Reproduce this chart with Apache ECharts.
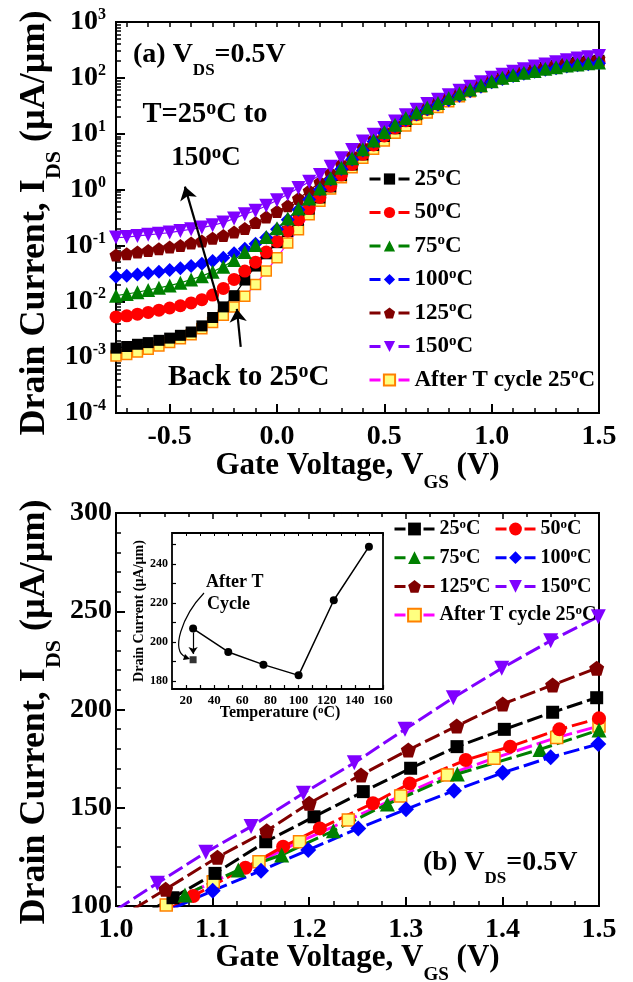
<!DOCTYPE html>
<html><head><meta charset="utf-8">
<script src="https://cdn.jsdelivr.net/npm/echarts@6/dist/echarts.min.js"></script>
<style>html,body{margin:0;padding:0;background:#fff}#c{width:633px;height:982px}</style>
</head><body><div id="c"></div>
<script>
// ---------- DATA (top panel, log scale) ----------
const vgs = [-0.75,-0.70,-0.65,-0.60,-0.55,-0.50,-0.45,-0.40,-0.35,-0.30,-0.25,-0.20,-0.15,-0.10,-0.05,0.00,0.05,0.10,0.15,0.20,0.25,0.30,0.35,0.40,0.45,0.50,0.55,0.60,0.65,0.70,0.75,0.80,0.85,0.90,0.95,1.00,1.05,1.10,1.15,1.20,1.25,1.30,1.35,1.40,1.45,1.50];
const ids25 = [1.45e-3,1.55e-3,1.70e-3,1.82e-3,2.00e-3,2.19e-3,2.46e-3,2.82e-3,3.63e-3,5.13e-3,7.94e-3,1.26e-2,2.40e-2,4.27e-2,7.08e-2,0.112,0.178,0.282,0.447,0.708,1.12,1.78,2.75,4.17,6.17,8.91,12.3,16.6,21.9,27.5,34.7,42.7,51.3,61.7,74.1,89.1,100,113,126,140,153,168,180,191,200,206];
const ids50 = [5.25e-3,5.50e-3,5.89e-3,6.31e-3,6.92e-3,7.59e-3,8.32e-3,9.33e-3,1.07e-2,1.29e-2,1.70e-2,2.46e-2,3.47e-2,5.01e-2,7.59e-2,0.118,0.182,0.288,0.457,0.724,1.15,1.82,2.82,4.27,6.31,9.12,12.6,17.0,21.9,27.5,33.9,41.7,50.1,60.3,72.4,85.1,97.7,111,123,137,148,160,172,180,188,195];
const ids75 = [1.26e-2,1.35e-2,1.45e-2,1.59e-2,1.74e-2,1.91e-2,2.14e-2,2.46e-2,2.82e-2,3.39e-2,4.17e-2,5.50e-2,7.59e-2,0.102,0.141,0.204,0.302,0.457,0.692,1.05,1.59,2.46,3.63,5.25,7.59,10.7,14.5,19.1,24.0,29.5,35.5,43.7,52.5,61.7,74.1,87.1,100,112,123,133,145,155,166,174,182,189];
const ids100 = [2.75e-2,2.88e-2,3.02e-2,3.16e-2,3.39e-2,3.63e-2,3.89e-2,4.27e-2,4.68e-2,5.25e-2,6.03e-2,7.24e-2,8.71e-2,0.107,0.138,0.195,0.288,0.437,0.661,1.00,1.51,2.34,3.47,5.01,7.24,10.2,13.8,17.8,22.4,27.5,33.1,39.8,47.9,57.5,69.2,83.2,95.5,108,118,129,140,149,159,168,176,182];
const ids125 = [6.76e-2,7.08e-2,7.59e-2,8.13e-2,8.71e-2,9.33e-2,0.100,0.110,0.120,0.135,0.151,0.174,0.200,0.257,0.324,0.407,0.513,0.692,0.955,1.35,1.95,2.82,4.07,5.75,7.94,11.0,14.8,19.1,24.0,30.2,37.2,45.7,55.0,66.1,77.6,91.2,104,119,133,147,161,178,191,203,212,221];
const ids150 = [0.138,0.141,0.148,0.155,0.162,0.170,0.182,0.195,0.209,0.229,0.257,0.302,0.363,0.417,0.513,0.646,0.822,1.07,1.38,1.82,2.57,3.63,5.13,7.24,9.55,12.6,16.6,21.4,26.9,33.9,40.7,49.0,58.9,69.2,83.2,100,114,129,143,159,173,190,206,221,235,247];
const idsAfter = [1.05e-3,1.12e-3,1.23e-3,1.38e-3,1.59e-3,1.82e-3,2.14e-3,2.51e-3,3.24e-3,4.17e-3,5.62e-3,7.94e-3,1.23e-2,2.00e-2,3.47e-2,6.03e-2,0.110,0.191,0.355,0.617,1.02,1.62,2.46,3.63,5.25,7.41,10.2,13.8,18.2,23.4,29.5,37.2,45.7,56.2,69.2,85.1,100,112,123,134,146,157,168,177,185,191];

// ---------- DATA (bottom panel, linear) ----------
const bx25 = [1.0,1.059,1.1025,1.155,1.205,1.256,1.305,1.353,1.402,1.452,1.4976];
const by25 = [88,104.2,116.6,132.7,145.4,158.2,170.1,181.1,189.9,198.6,206.0];
const bx50 = [1.0,1.08,1.134,1.173,1.211,1.266,1.304,1.362,1.408,1.459,1.5];
const by50 = [84,105.1,119.5,130.2,139.5,152.3,162.4,174.3,181.1,189.9,195.5];
const bx75 = [1.0,1.0714,1.1266,1.1715,1.225,1.2809,1.3533,1.4389,1.5];
const by75 = [84,105.6,118.3,126.0,138.3,151.9,167.2,179.7,189.6];
const bx100 = [1.0,1.1001,1.1501,1.199,1.2508,1.3002,1.3499,1.4003,1.45,1.4993];
const by100 = [86,107.8,118.0,128.5,139.5,149.2,158.7,167.8,175.7,182.4];
const bx125 = [1.0,1.0514,1.105,1.156,1.2,1.2536,1.3026,1.3527,1.4003,1.452,1.4976];
const by125 = [93,108.5,124.8,138.3,152.3,166.7,179.4,191.6,202.8,212.5,221.0];
const bx150 = [1.0,1.0428,1.093,1.1398,1.194,1.2467,1.2992,1.3492,1.3993,1.45,1.4993];
const by150 = [98,111.6,127.3,140.4,157.4,172.9,189.9,206.0,221.0,235.0,247.2];
const bxAfter = [1.0,1.052,1.1007,1.148,1.19,1.2405,1.2947,1.343,1.3913,1.4562,1.5];
const byAfter = [86,100.5,112.4,122.5,132.7,143.8,156.0,166.7,175.2,185.7,191.6];

// ---------- DATA (inset) ----------
const insetT = [25,50,75,100,125,150];
const insetI = [207,195,188.5,183,221.5,249];
const afterT = [25];
const afterI = [191];

// tick label values
const topXLabels = [-0.5,0,0.5,1.0,1.5];
const insetXLabels = [20,40,60,80,100,120,140,160];
const insetYLabels = [180,200,220,240];

const names = ['25°C','50°C','75°C','100°C','125°C','150°C','After T cycle 25°C'];

// ---------- helpers ----------
const FF = '"Liberation Serif", "Times New Roman", serif';
const cv = document.createElement('canvas').getContext('2d');
function tw(t, size) { cv.font = 'bold ' + size + 'px "Liberation Serif"'; return cv.measureText(t).width; }
function rt(parts, x, y, S, opts) {
  opts = opts || {};
  const kids = []; let cx = 0;
  parts.forEach(p => {
    let t, k;
    if (typeof p === 'string') { t = p; k = 'n'; } else { t = p[0]; k = p[1]; }
    let size = S, dy = 0;
    if (k === 'sub') { size = Math.round(S * 0.62); dy = 0.55 * S; }
    else if (k === 'sup') { size = Math.round(S * 0.7); dy = -0.2 * S; }
    kids.push({type: 'text', x: cx, y: dy, z: 100,
      style: {text: t, font: 'bold ' + size + 'px ' + FF, fill: '#000', align: 'left', textAlign: 'left', verticalAlign: 'middle', textVerticalAlign: 'middle'}});
    cx += tw(t, size);
  });
  let off = 0;
  if (opts.align === 'center') off = -cx / 2; else if (opts.align === 'right') off = -cx;
  kids.forEach(k => { k.x += off; });
  return {type: 'group', x: x, y: y, rotation: opts.rotation || 0, children: kids, z: 100};
}
function legFmt(name) { const i = name.indexOf('°'); return '{n|' + name.slice(0, i) + '}{o|o}{n|' + name.slice(i + 1) + '}'; }

const PENT = 'path://M0,-10L9.511,-3.09L5.878,8.09L-5.878,8.09L-9.511,-3.09Z';
const COL = {'25°C':'#000000','50°C':'#ff0000','75°C':'#008000','100°C':'#0000ff','125°C':'#800000','150°C':'#8000ff','After T cycle 25°C':'#ff00ff'};
const SYM = {'25°C':'rect','50°C':'circle','75°C':'triangle','100°C':'diamond','125°C':PENT,'150°C':'triangle','After T cycle 25°C':'rect'};
const ROT = {'150°C':180};
const topArr = {'25°C':ids25,'50°C':ids50,'75°C':ids75,'100°C':ids100,'125°C':ids125,'150°C':ids150,'After T cycle 25°C':idsAfter};
const topSize = {'25°C':11,'50°C':13,'75°C':14,'100°C':14,'125°C':13,'150°C':14,'After T cycle 25°C':10};
const botX = {'25°C':bx25,'50°C':bx50,'75°C':bx75,'100°C':bx100,'125°C':bx125,'150°C':bx150,'After T cycle 25°C':bxAfter};
const botY = {'25°C':by25,'50°C':by50,'75°C':by75,'100°C':by100,'125°C':by125,'150°C':by150,'After T cycle 25°C':byAfter};
const botSize = {'25°C':13,'50°C':14,'75°C':15,'100°C':16,'125°C':15,'150°C':15,'After T cycle 25°C':12};

function styleFor(name, lw, dash) {
  const c = COL[name];
  const o = {symbol: SYM[name], symbolRotate: ROT[name] || 0, lineStyle: {color: c, width: lw, type: dash}, itemStyle: {color: c}};
  if (name === 'After T cycle 25°C') o.itemStyle = {color: '#ffff80', borderColor: '#ff8000', borderWidth: 1.5};
  return o;
}

const series = [];
const topOrder = ['After T cycle 25°C','25°C','50°C','125°C','150°C','100°C','75°C'];
topOrder.forEach(n => {
  const arr = topArr[n];
  series.push(Object.assign({type: 'line', name: n, xAxisIndex: 0, yAxisIndex: 0, showAllSymbol: true,
    symbolSize: topSize[n], clip: true, z: 3,
    data: vgs.map((v, i) => [v, arr[i]])}, styleFor(n, 1.2, 'solid')));
});
// arrows on top panel
series[series.length - 1].markLine = {
  silent: true, symbol: ['none', 'arrow'], symbolSize: 13, z: 20,
  lineStyle: {color: '#000', width: 2.2, type: 'solid'}, label: {show: false},
  data: [
    [{coord: [-0.266, 7.9e-3]}, {coord: [-0.429, 1.13]}],
    [{coord: [-0.169, 1.52e-3]}, {coord: [-0.187, 7.3e-3]}]
  ]
};
const botOrder = ['After T cycle 25°C','25°C','50°C','75°C','100°C','125°C','150°C'];
botOrder.forEach(n => {
  const xs = botX[n], ys = botY[n];
  series.push(Object.assign({type: 'line', name: n, xAxisIndex: 3, yAxisIndex: 2, showAllSymbol: true,
    symbolSize: botSize[n], clip: true, z: 3,
    data: xs.map((v, i) => [v, ys[i]])}, styleFor(n, 3, [16, 5])));
});
series.push({type: 'line', name: 'inset', xAxisIndex: 5, yAxisIndex: 3, symbol: 'circle', symbolSize: 8,
  lineStyle: {color: '#000', width: 1.5}, itemStyle: {color: '#000'}, z: 6,
  data: insetT.map((t, i) => [t, insetI[i]]),
  markLine: {silent: true, symbol: ['none', 'arrow'], symbolSize: 7, lineStyle: {color: '#000', width: 1.2, type: 'solid'},
    label: {show: false}, data: [[{coord: [25, 205]}, {coord: [25, 194]}]]}});
series.push({type: 'scatter', name: 'insetAfter', xAxisIndex: 5, yAxisIndex: 3, symbol: 'rect', symbolSize: 7,
  itemStyle: {color: '#000'}, z: 6, data: afterT.map((t, i) => [t, afterI[i]])});

// ticks
const tickStyle = {color: '#000', width: 1.5};
const noLine = {show: false, onZero: false};
const labStyle = (s) => ({fontSize: s, fontWeight: 'bold', fontFamily: FF, color: '#000'});
const top01 = []; for (let k = -7; k <= 14; k++) top01.push(k / 10);
const topMinor = top01.filter(v => Math.abs(v * 2 - Math.round(v * 2)) > 1e-6);
const logMinor = []; for (let d = -4; d < 3; d++) for (let k = 2; k <= 9; k++) logMinor.push(d + Math.log10(k));
const insetTicks = []; for (let t = 20; t <= 160; t += 10) insetTicks.push(t);
const insetYTicks = []; for (let t = 180; t <= 250; t += 10) insetYTicks.push(t);

const legRichTop = {n: {fontSize: 23, fontWeight: 'bold', fontFamily: FF, color: '#000', lineHeight: 26},
                    o: {fontSize: 15, fontWeight: 'bold', fontFamily: FF, color: '#000', lineHeight: 13, verticalAlign: 'top'}};
const legRichBot = {n: {fontSize: 20, fontWeight: 'bold', fontFamily: FF, color: '#000', lineHeight: 22},
                    o: {fontSize: 13, fontWeight: 'bold', fontFamily: FF, color: '#000', lineHeight: 11, verticalAlign: 'top'}};
const legBase = {orient: 'vertical', itemWidth: 40, selectedMode: false, formatter: legFmt, padding: 0,
  lineStyle: {width: 3, type: [11, 18]}};

const option = {
  animation: false,
  backgroundColor: '#fff',
  grid: [
    {left: 116, top: 22, width: 483, height: 391, show: true, borderColor: '#000', borderWidth: 2, backgroundColor: 'transparent'},
    {left: 116, top: 22, width: 483, height: 391, show: false},
    {left: 116, top: 513, width: 483, height: 393, show: true, borderColor: '#000', borderWidth: 2, backgroundColor: 'transparent'},
    {left: 172, top: 533, width: 211, height: 156, show: true, borderColor: '#000', borderWidth: 1.8, backgroundColor: '#fff'}
  ],
  xAxis: [
    {gridIndex: 0, type: 'value', min: -0.75, max: 1.5, position: 'bottom', splitLine: {show: false},
      axisLine: noLine,
      axisTick: {inside: true, length: 9, lineStyle: {color: '#000', width: 2}, customValues: topXLabels},
      axisLabel: Object.assign(labStyle(28), {margin: 10, customValues: topXLabels, formatter: v => v.toFixed(1)})},
    {gridIndex: 0, type: 'value', min: -0.75, max: 1.5, position: 'top', splitLine: {show: false},
      axisLine: noLine, axisLabel: {show: false},
      axisTick: {inside: true, length: 5, lineStyle: tickStyle, customValues: top01}},
    {gridIndex: 1, type: 'value', min: -0.75, max: 1.5, position: 'bottom', splitLine: {show: false},
      axisLine: noLine, axisLabel: {show: false},
      axisTick: {inside: true, length: 5, lineStyle: tickStyle, customValues: topMinor}},
    {gridIndex: 2, type: 'value', min: 1.0, max: 1.5, interval: 0.1, position: 'bottom', splitLine: {show: false},
      axisLine: noLine,
      axisTick: {inside: true, length: 9, lineStyle: {color: '#000', width: 2}},
      minorTick: {show: true, splitNumber: 4, length: 5, lineStyle: tickStyle},
      axisLabel: Object.assign(labStyle(28), {margin: 10, formatter: v => v.toFixed(1)})},
    {gridIndex: 2, type: 'value', min: 1.0, max: 1.5, interval: 0.1, position: 'top', splitLine: {show: false},
      axisLine: noLine, axisLabel: {show: false},
      axisTick: {inside: true, length: 6, lineStyle: tickStyle},
      minorTick: {show: true, splitNumber: 4, length: 4, lineStyle: tickStyle}},
    {gridIndex: 3, type: 'value', min: 10, max: 160, position: 'bottom', splitLine: {show: false},
      axisLine: noLine,
      axisTick: {inside: true, length: 4, lineStyle: {color: '#000', width: 1.2}, customValues: insetTicks},
      axisLabel: Object.assign(labStyle(13), {margin: 5, customValues: insetXLabels})},
    {gridIndex: 3, type: 'value', min: 10, max: 160, position: 'top', splitLine: {show: false},
      axisLine: noLine, axisLabel: {show: false},
      axisTick: {inside: true, length: 3, lineStyle: {color: '#000', width: 1}, customValues: insetTicks}}
  ],
  yAxis: [
    {gridIndex: 0, type: 'log', logBase: 10, min: 1e-4, max: 1e3, splitNumber: 7, position: 'left', splitLine: {show: false},
      axisLine: noLine,
      axisTick: {inside: true, length: 9, lineStyle: {color: '#000', width: 2}},
      axisLabel: {margin: 10, formatter: v => '{b|10}{e|' + Math.round(Math.log10(v)) + '}',
        rich: {b: {fontSize: 28, fontWeight: 'bold', fontFamily: FF, color: '#000', lineHeight: 30},
               e: {fontSize: 16, fontWeight: 'bold', fontFamily: FF, color: '#000', lineHeight: 12, verticalAlign: 'top'}}}},
    {gridIndex: 1, type: 'value', min: -4, max: 3, position: 'left', splitLine: {show: false},
      axisLine: noLine, axisLabel: {show: false},
      axisTick: {inside: true, length: 5, lineStyle: tickStyle, customValues: logMinor}},
    {gridIndex: 2, type: 'value', min: 100, max: 300, interval: 50, position: 'left', splitLine: {show: false},
      axisLine: noLine,
      axisTick: {inside: true, length: 9, lineStyle: {color: '#000', width: 2}},
      minorTick: {show: true, splitNumber: 5, length: 5, lineStyle: tickStyle},
      axisLabel: Object.assign(labStyle(28), {margin: 4})},
    {gridIndex: 3, type: 'value', min: 176, max: 256, position: 'left', splitLine: {show: false},
      axisLine: noLine,
      axisTick: {inside: true, length: 4, lineStyle: {color: '#000', width: 1.2}, customValues: insetYTicks},
      axisLabel: Object.assign(labStyle(12), {margin: 4, customValues: insetYLabels})}
  ],
  legend: [
    Object.assign({}, legBase, {data: names, left: 368, top: 166, itemHeight: 14, itemGap: 9, textStyle: {rich: legRichTop}}),
    Object.assign({}, legBase, {data: ['25°C','75°C','125°C','After T cycle 25°C'], left: 393, top: 518, itemHeight: 16, itemGap: 7.7, textStyle: {rich: legRichBot}}),
    Object.assign({}, legBase, {data: ['50°C','100°C','150°C'], left: 494, top: 518, itemHeight: 16, itemGap: 7.7, textStyle: {rich: legRichBot}})
  ],
  series: series,
  graphic: {elements: [
    rt(['Drain Current, I', ['DS', 'sub'], ' (µA/µm)'], 35, 223, 36, {align: 'center', rotation: Math.PI / 2}),
    rt(['Drain Current, I', ['DS', 'sub'], ' (µA/µm)'], 35, 712, 36, {align: 'center', rotation: Math.PI / 2}),
    rt(['Gate Voltage, V', ['GS', 'sub'], ' (V)'], 357.5, 466, 31, {align: 'center'}),
    rt(['Gate Voltage, V', ['GS', 'sub'], ' (V)'], 357.5, 958, 31, {align: 'center'}),
    rt(['(a) V', ['DS', 'sub'], '=0.5V'], 133, 55, 28),
    rt(['T=25', ['o', 'sup'], 'C to'], 205, 115, 28.5, {align: 'center'}),
    rt(['150', ['o', 'sup'], 'C'], 206, 158, 27, {align: 'center'}),
    rt(['Back to 25', ['o', 'sup'], 'C'], 168, 378, 29),
    rt(['(b) V', ['DS', 'sub'], '=0.5V'], 423, 863, 28),
    rt(['After T'], 206, 582, 18),
    rt(['Cycle'], 207, 604, 18),
    rt(['Temperature (', ['o', 'sup'], 'C)'], 280, 713, 16, {align: 'center'}),
    rt(['Drain Current (µA/µm)'], 139, 611, 14, {align: 'center', rotation: Math.PI / 2}),
    {type: 'bezierCurve', z: 100, shape: {x1: 204, y1: 593, cpx1: 182, cpy1: 616, cpx2: 170, cpy2: 652, x2: 186, y2: 657},
      style: {stroke: '#000', lineWidth: 1.2, fill: null}},
    {type: 'polygon', z: 100, shape: {points: [[190, 659], [183, 660], [185, 654]]}, style: {fill: '#000'}}
  ]}
};
const chart = echarts.init(document.getElementById('c'));
chart.setOption(option);
</script>
</body></html>
